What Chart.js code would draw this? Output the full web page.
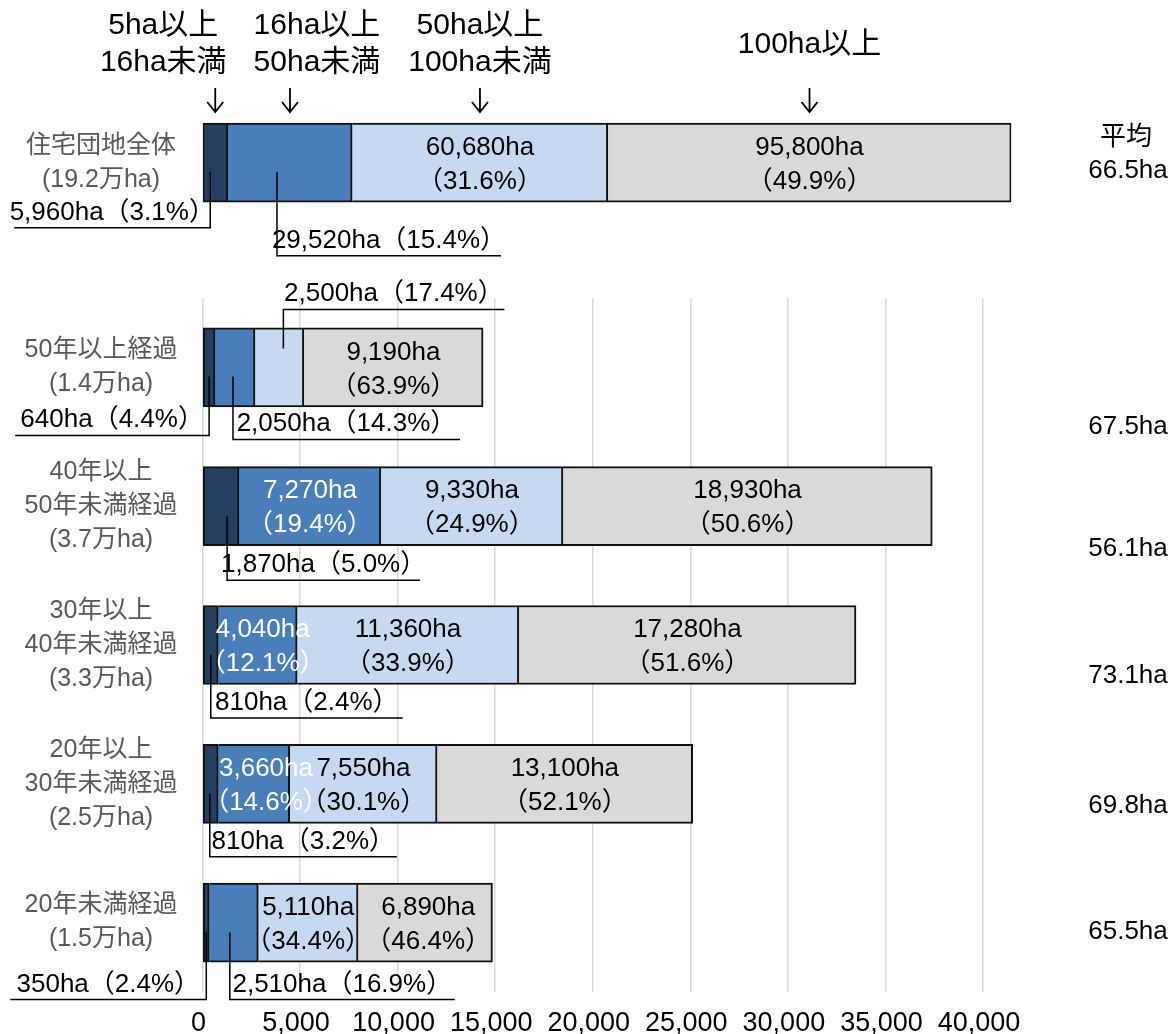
<!DOCTYPE html>
<html lang="ja">
<head>
<meta charset="utf-8">
<title>住宅団地の規模別面積</title>
<script src="https://cdn.jsdelivr.net/npm/chart.js@4.4.0/dist/chart.umd.min.js"></script>
<style>
    html, body { margin: 0; padding: 0; background: #fff; }
    #wrap { position: relative; width: 1173px; height: 1034px; overflow: hidden; }
    #wrap canvas { position: absolute; left: 0; top: 0; }
</style>
</head>
<body>
<div id="wrap">
    <canvas id="lowerChart" width="1173" height="1034"></canvas>
    <canvas id="topChart" width="1173" height="1034"></canvas>
</div>
<script>
// Row labels: the first row is the whole, the others by years since development
let rowNames = [['住宅団地全体'], ['50年以上経過'], ['40年以上', '50年未満経過'], ['30年以上', '40年未満経過'], ['20年以上', '30年未満経過'], ['20年未満経過']];
let rowTotals = ['(19.2万ha)', '(1.4万ha)', '(3.7万ha)', '(3.3万ha)', '(2.5万ha)', '(1.5万ha)'];

// Size classes of the estates (stack order, left to right)
let sizeClasses = [['5ha以上', '16ha未満'], ['16ha以上', '50ha未満'], ['50ha以上', '100ha未満'], ['100ha以上']];

// Area (ha) of each size class, one value per row
let area5to16 = [5960, 640, 1870, 810, 810, 350];
let area16to50 = [29520, 2050, 7270, 4040, 3660, 2510];
let area50to100 = [60680, 2500, 9330, 11360, 7550, 5110];
let area100plus = [95800, 9190, 18930, 17280, 13100, 6890];

// Share (%) of each size class as printed on the chart
let pct5to16 = [3.1, 4.4, 5.0, 2.4, 3.2, 2.4];
let pct16to50 = [15.4, 14.3, 19.4, 12.1, 14.6, 16.9];
let pct50to100 = [31.6, 17.4, 24.9, 33.9, 30.1, 34.4];
let pct100plus = [49.9, 63.9, 50.6, 51.6, 52.1, 46.4];

// Average estate size (ha) per row
let averages = [66.5, 67.5, 56.1, 73.1, 69.8, 65.5];

// Tick values of the lower axis
let axisTicks = [0, 5000, 10000, 15000, 20000, 25000, 30000, 35000, 40000];

let series = [area5to16, area16to50, area50to100, area100plus];
let shares = [pct5to16, pct16to50, pct50to100, pct100plus];

// Styling
let FONT = "'Liberation Sans', 'Noto Sans CJK JP', sans-serif";
let colors = ['#243F60', '#4A7EBB', '#C6D9F1', '#D9D9D9'];
let textColors = ['#000', '#fff', '#000', '#000'];

// Labels that sit outside the bar with a leader line
// side: -1 = line goes left, 1 = right; y0/y1 offsets from the bar centre
let callouts = [
    { row: 0, seg: 0, side: -1, dx: -5, y0: 9, y1: 65, len: 196 },
    { row: 0, seg: 1, side: 1, dx: -13, y0: 9, y1: 93, len: 224 },
    { row: 1, seg: 0, side: -1, dx: 0, y0: 9, y1: 68, len: 194 },
    { row: 1, seg: 1, side: 1, dx: -2, y0: 9, y1: 72, len: 227 },
    { row: 1, seg: 2, side: 1, dx: 4, y0: -19, y1: -58, len: 221 },
    { row: 2, seg: 0, side: 1, dx: 6, y0: 10, y1: 74, len: 193 },
    { row: 3, seg: 0, side: 1, dx: 0, y0: 10, y1: 73, len: 192 },
    { row: 4, seg: 0, side: 1, dx: -1, y0: 10, y1: 73, len: 187 },
    { row: 5, seg: 0, side: -1, dx: 0, y0: 10, y1: 77, len: 196 },
    { row: 5, seg: 1, side: 1, dx: -4, y0: 10, y1: 77, len: 225 }
];

// Small horizontal nudges of in-bar labels that spill over their segment
let inLabelDx = { '3-1': 5, '4-1': 12, '5-3': 3 };

// Vertical offset of the average labels from each bar centre
let averageDy = [8, 59, 43, 31, 22, 9];
// Horizontal offset of the size class headers from their segment centre
let headerDx = [-52, 27, 0, 0];

function fmt(v) {
    return v.toLocaleString('en-US');
}

function findCallout(row, seg) {
    for (let i = 0; i < callouts.length; i++) {
        if (callouts[i].row === row && callouts[i].seg === seg) {
            return callouts[i];
        }
    }
    return null;
}

// Builds the four stacked datasets for the given rows
function makeDatasets(rows) {
    return series.map(function (values, s) {
        return {
            label: sizeClasses[s].join(''),
            data: rows.map(function (r) { return values[r]; }),
            backgroundColor: colors[s],
            borderColor: '#111',
            borderWidth: 2,
            borderSkipped: s === 0 ? false : 'start',
            barThickness: 79
        };
    });
}

// Draws row labels, value labels, leader lines and averages
let annotationPlugin = {
    id: 'annotations',
    afterDatasetsDraw(chart, args, opts) {
        let ctx = chart.ctx;
        let rows = opts.rows;
        ctx.save();

        rows.forEach(function (r, i) {
            let yc = chart.getDatasetMeta(0).data[i].y;

            // Row label at the left, in grey
            let lines = rowNames[r].concat([rowTotals[r]]);
            ctx.font = '25px ' + FONT;
            ctx.fillStyle = '#595959';
            ctx.textAlign = 'center';
            ctx.textBaseline = 'middle';
            lines.forEach(function (t, k) {
                ctx.fillText(t, 101, yc + (k - (lines.length - 1) / 2) * 34);
            });

            for (let s = 0; s < series.length; s++) {
                let bar = chart.getDatasetMeta(s).data[i];
                let cx = (bar.x + bar.base) / 2;
                let valueText = fmt(series[s][r]) + 'ha';
                let pctText = '（' + shares[s][r].toFixed(1) + '%）';
                let c = findCallout(r, s);
                ctx.font = '26px ' + FONT;

                if (c) {
                    let ax = cx + c.dx;
                    let yLine = yc + c.y1;
                    ctx.strokeStyle = '#000';
                    ctx.lineWidth = 1.5;
                    ctx.beginPath();
                    ctx.moveTo(ax, yc + c.y0);
                    ctx.lineTo(ax, yLine);
                    ctx.lineTo(ax + c.side * c.len, yLine);
                    ctx.stroke();
                    ctx.fillStyle = '#000';
                    ctx.textAlign = 'center';
                    ctx.textBaseline = 'alphabetic';
                    ctx.fillText(valueText + pctText, ax + c.side * c.len / 2, yLine - 8);
                } else {
                    let nx = cx + (inLabelDx[r + '-' + s] || 0);
                    ctx.fillStyle = textColors[s];
                    ctx.textAlign = 'center';
                    ctx.textBaseline = 'middle';
                    ctx.fillText(valueText, nx, yc - 15);
                    ctx.fillText(pctText, nx, yc + 19);
                }
            }

            // Average size at the right
            ctx.fillStyle = '#000';
            ctx.font = '26px ' + FONT;
            ctx.textAlign = 'center';
            ctx.textBaseline = 'middle';
            ctx.fillText(averages[r].toFixed(1) + 'ha', 1128, yc + averageDy[r]);
            if (r === 0) {
                ctx.fillText('平均', 1126, yc - 25);
            }
        });

        // Size class headers with arrows, only above the first bar
        if (opts.headers) {
            sizeClasses.forEach(function (lines, s) {
                let bar = chart.getDatasetMeta(s).data[0];
                let cx = (bar.x + bar.base) / 2;
                ctx.fillStyle = '#000';
                ctx.font = '30px ' + FONT;
                ctx.textAlign = 'center';
                ctx.textBaseline = 'middle';
                if (lines.length === 1) {
                    ctx.fillText(lines[0], cx + headerDx[s], 45);
                } else {
                    ctx.fillText(lines[0], cx + headerDx[s], 26);
                    ctx.fillText(lines[1], cx + headerDx[s], 63);
                }
                ctx.strokeStyle = '#000';
                ctx.lineWidth = 1.8;
                ctx.beginPath();
                ctx.moveTo(cx, 88);
                ctx.lineTo(cx, 112);
                ctx.moveTo(cx - 8, 102);
                ctx.lineTo(cx, 112);
                ctx.lineTo(cx + 8, 102);
                ctx.stroke();
            });
        }
        ctx.restore();
    }
};

// Upper chart: the whole, on its own scale
let topRows = [0];
let topTotal = series.reduce(function (sum, values) { return sum + values[0]; }, 0);

new Chart(document.getElementById('topChart'), {
    type: 'bar',
    data: {
        labels: topRows.map(function (r) { return rowNames[r].join(''); }),
        datasets: makeDatasets(topRows)
    },
    options: {
        indexAxis: 'y',
        responsive: false,
        animation: false,
        layout: { padding: { top: 103, bottom: 811.6, left: 0, right: 161.7 } },
        plugins: {
            legend: { display: false },
            tooltip: { enabled: false },
            annotations: { rows: topRows, headers: true }
        },
        scales: {
            x: { stacked: true, display: false, min: 0, max: topTotal },
            y: {
                stacked: true,
                ticks: { display: false },
                grid: { display: false },
                border: { display: false },
                afterFit: function (scale) { scale.width = 202.7; }
            }
        }
    },
    plugins: [annotationPlugin]
});

// Lower chart: rows by years since development, on a shared axis
let lowerRows = [1, 2, 3, 4, 5];

new Chart(document.getElementById('lowerChart'), {
    type: 'bar',
    data: {
        labels: lowerRows.map(function (r) { return rowNames[r].join(''); }),
        datasets: makeDatasets(lowerRows)
    },
    options: {
        indexAxis: 'y',
        responsive: false,
        animation: false,
        locale: 'en-US',
        layout: { padding: { top: 298, bottom: 0, left: 0, right: 190 } },
        plugins: {
            legend: { display: false },
            tooltip: { enabled: false },
            annotations: { rows: lowerRows, headers: false }
        },
        scales: {
            x: {
                stacked: true,
                min: axisTicks[0],
                max: axisTicks[axisTicks.length - 1],
                afterBuildTicks: function (scale) {
                    scale.ticks = axisTicks.map(function (v) { return { value: v }; });
                },
                ticks: {
                    color: '#000',
                    font: { family: FONT, size: 27 },
                    padding: 15,
                    labelOffset: -4,
                    maxRotation: 0,
                    callback: function (v) { return fmt(v); }
                },
                grid: { color: '#D9D9D9', lineWidth: 1.5, drawTicks: false },
                border: { display: false },
                afterFit: function (scale) { scale.height = 42; }
            },
            y: {
                stacked: true,
                ticks: { display: false },
                grid: { display: false },
                border: { display: false },
                afterFit: function (scale) { scale.width = 202.5; }
            }
        }
    },
    plugins: [annotationPlugin]
});
</script>
</body>
</html>
